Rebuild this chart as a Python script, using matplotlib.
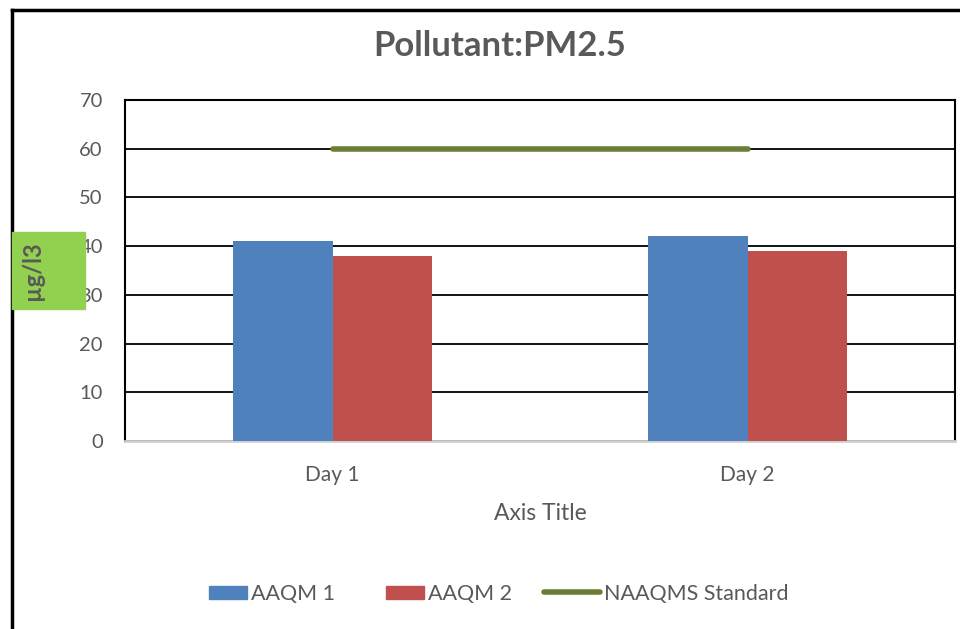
import numpy as np
import matplotlib
matplotlib.use('Agg')
import matplotlib.pyplot as plt
from matplotlib.patches import Rectangle, Patch
from matplotlib.lines import Line2D
from matplotlib.legend_handler import HandlerPatch

plt.rcParams['font.family'] = ['Lato', 'DejaVu Sans']

# data
days = ['Day 1', 'Day 2']
aaqm1 = [41, 42]
aaqm2 = [38, 39]
standard = [60, 60]
yticks = [0, 10, 20, 30, 40, 50, 60, 70]

blue = '#4f81bd'
red = '#c0504d'
green = '#687f35'
grey_txt = '#595959'

W, H = 960, 629
fig = plt.figure(figsize=(W / 100, H / 100), dpi=100)

# outer chart frame (left and top visible)
fig.add_artist(Line2D([12 / W, 12 / W], [0, 1 - 10 / H], color='black', lw=2.5,
                      transform=fig.transFigure))
fig.add_artist(Line2D([12 / W, 1], [1 - 10 / H, 1 - 10 / H], color='black', lw=2.5,
                      transform=fig.transFigure))

ax = fig.add_axes([125 / W, 1 - 441 / H, 830 / W, 341 / H])
x = np.arange(len(days))
w = 0.2386
ax.bar(x - w / 2, aaqm1, w, color=blue, label='AAQM 1', zorder=3)
ax.bar(x + w / 2, aaqm2, w, color=red, label='AAQM 2', zorder=3)
ax.plot(x, standard, color=green, lw=4, solid_capstyle='round', label='NAAQMS Standard', zorder=4)

ax.set_xlim(-0.5, 1.5)
ax.set_ylim(0, 70)
ax.set_yticks(yticks)
ax.set_xticks(x)
ax.set_xticklabels(days)
ax.tick_params(axis='both', length=0, colors=grey_txt)
ax.tick_params(axis='y', labelsize=14.5, pad=16)
ax.tick_params(axis='x', labelsize=15, pad=17)
ax.yaxis.grid(True, color='black', lw=1.3, zorder=1)
for s in ['left', 'top', 'right']:
    ax.spines[s].set_color('black')
    ax.spines[s].set_linewidth(1.5)
ax.spines['bottom'].set_color('#d0d0d0')
ax.spines['bottom'].set_linewidth(2)
ax.set_xlabel('Axis Title', fontsize=16.5, color=grey_txt, labelpad=13)

fig.text(500 / W, 1 - 46 / H, 'Pollutant:PM2.5', ha='center', va='center',
         fontsize=25, fontweight='bold', color=grey_txt)

# y axis title on green box
fig.add_artist(Rectangle((12 / W, 1 - 309 / H), 73 / W, 77 / H, color='#92d050',
                         transform=fig.transFigure, zorder=5))
fig.text(33 / W, 1 - 271 / H, 'µg/l3', rotation=90, ha='center', va='center',
         fontsize=17, fontweight='bold', color=grey_txt, zorder=6)


def small_box(legend, orig_handle, xdescent, ydescent, width, height, fontsize):
    # narrower, flatter swatch, right aligned next to the label
    bw, bh = 27.4, 10
    return Rectangle((-xdescent + width - bw, -ydescent + (height - bh) / 2), bw, bh)


handles = [Patch(color=blue, label='AAQM 1'), Patch(color=red, label='AAQM 2'),
           Line2D([0], [0], color=green, lw=4, solid_capstyle='round', label='NAAQMS Standard')]
fig.legend(handles=handles, loc='center', bbox_to_anchor=(490 / W, 1 - 594 / H), ncol=3,
           frameon=False, fontsize=15.5, labelcolor=grey_txt, handlelength=2.6,
           handletextpad=0.2, columnspacing=1.5,
           handler_map={Patch: HandlerPatch(patch_func=small_box)})

fig.savefig('out.png', dpi=100)
